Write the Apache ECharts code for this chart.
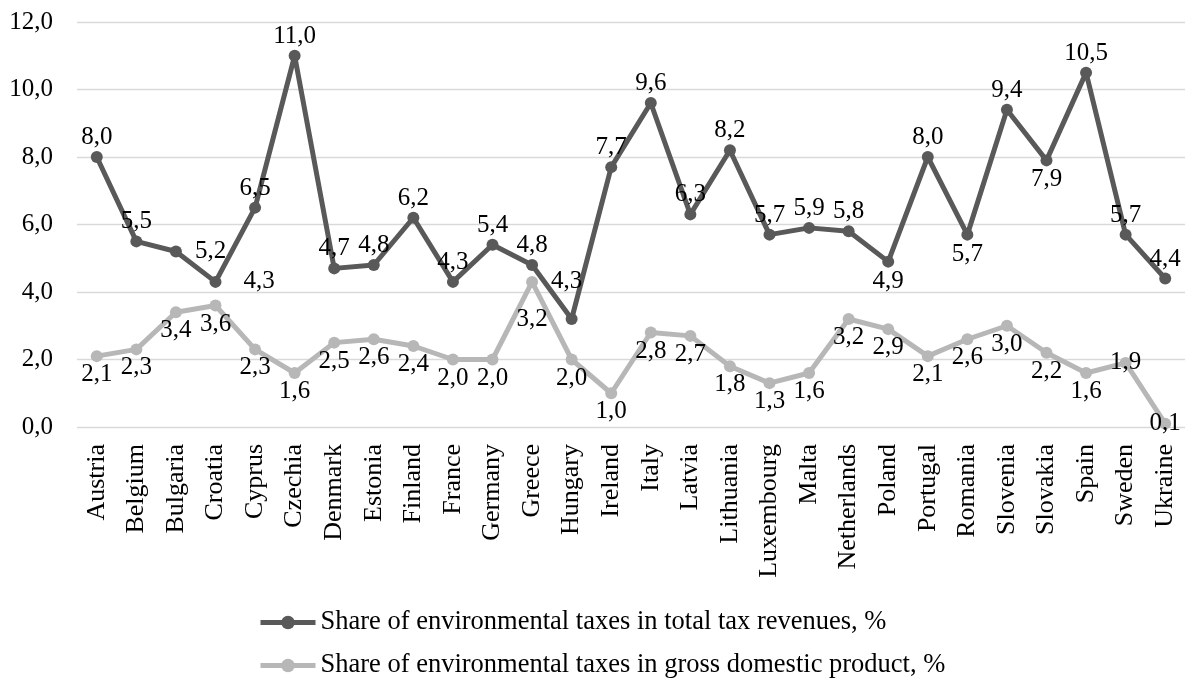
<!DOCTYPE html>
<html>
<head>
<meta charset="utf-8">
<style>
  html, body { margin: 0; padding: 0; background: #ffffff; }
  #chart { width: 1196px; height: 681px; }
</style>
<script src="https://cdn.jsdelivr.net/npm/echarts@6/dist/echarts.min.js"></script>
</head>
<body>
<div id="chart"></div>
<script>
// Country list along the horizontal axis
const countries = [
  'Austria', 'Belgium', 'Bulgaria', 'Croatia', 'Cyprus', 'Czechia', 'Denmark',
  'Estonia', 'Finland', 'France', 'Germany', 'Greece', 'Hungary', 'Ireland',
  'Italy', 'Latvia', 'Lithuania', 'Luxembourg', 'Malta', 'Netherlands', 'Poland',
  'Portugal', 'Romania', 'Slovenia', 'Slovakia', 'Spain', 'Sweden', 'Ukraine'
];

// Share of environmental taxes in total tax revenues, %
const shareOfTaxRevenues = [
  8.0, 5.5, 5.2, 4.3, 6.5, 11.0, 4.7,
  4.8, 6.2, 4.3, 5.4, 4.8, 3.2, 7.7,
  9.6, 6.3, 8.2, 5.7, 5.9, 5.8, 4.9,
  8.0, 5.7, 9.4, 7.9, 10.5, 5.7, 4.4
];

// Share of environmental taxes in gross domestic product, %
const shareOfGdp = [
  2.1, 2.3, 3.4, 3.6, 2.3, 1.6, 2.5,
  2.6, 2.4, 2.0, 2.0, 4.3, 2.0, 1.0,
  2.8, 2.7, 1.8, 1.3, 1.6, 3.2, 2.9,
  2.1, 2.6, 3.0, 2.2, 1.6, 1.9, 0.1
];

const seriesNames = [
  'Share of environmental taxes in total tax revenues, %',
  'Share of environmental taxes in gross domestic product, %'
];

// Value axis range
const yMin = 0;
const yMax = 12;
const yStep = 2;

const FONT = 'Liberation Serif, Times New Roman, serif';
const FS = 25;        // numbers (ticks and value labels)
const FS_CAT = 26;    // country names
const FS_LEGEND = 26.5;
const DARK = '#595959';
const LIGHT = '#b7b7b7';
const fmt = v => Number(v).toFixed(1).replace('.', ',');

// Label placement for points whose value label does not sit in the default spot
const darkLabelPlacement = {
  2: { position: 'right', distance: 13 },
  3: { position: 'right', distance: 22 },
  12: { position: 'left', distance: 18, offset: [0, -6] },
  20: { position: 'bottom' },
  22: { position: 'bottom' },
  24: { position: 'bottom' }
};
const lightLabelPlacement = {
  11: { position: 'right', distance: 13, offset: [0, 14] },
  26: { position: 'inside', offset: [-2, 10] },
  27: { position: 'inside', offset: [4, 0] }
};

function buildData(values, placement) {
  return values.map((v, i) => {
    const item = { value: v };
    if (placement[i]) item.label = placement[i];
    return item;
  });
}

// One legend row per series, stacked and left-aligned
function legendRow(name, top, color) {
  return {
    orient: 'horizontal',
    left: 258,
    top: top,
    padding: 0,
    itemWidth: 55,
    itemHeight: 17,
    lineStyle: { width: 5, color: color },
    itemStyle: { color: color },
    textStyle: { fontFamily: FONT, fontSize: FS_LEGEND, color: '#000000' },
    data: [name]
  };
}

const chart = echarts.init(document.getElementById('chart'), null, { renderer: 'canvas' });

chart.setOption({
  animation: false,
  backgroundColor: '#ffffff',
  textStyle: { fontFamily: FONT, color: '#000000' },
  grid: { left: 77, right: 11, top: 22, bottom: 254, containLabel: false },
  legend: [
    legendRow(seriesNames[0], 609, DARK),
    legendRow(seriesNames[1], 652, LIGHT)
  ],
  xAxis: {
    type: 'category',
    data: countries,
    boundaryGap: true,
    axisLine: { show: false },
    axisTick: { show: false },
    axisLabel: {
      rotate: 90,
      interval: 0,
      margin: 17,
      fontFamily: FONT,
      fontSize: FS_CAT,
      color: '#000000'
    }
  },
  yAxis: {
    type: 'value',
    min: yMin,
    max: yMax,
    interval: yStep,
    axisLine: { show: false },
    axisTick: { show: false },
    splitLine: { lineStyle: { color: '#d9d9d9', width: 1.3 } },
    axisLabel: {
      margin: 24,
      fontFamily: FONT,
      fontSize: FS,
      color: '#000000',
      formatter: fmt
    }
  },
  series: [
    {
      name: seriesNames[0],
      type: 'line',
      data: buildData(shareOfTaxRevenues, darkLabelPlacement),
      symbol: 'circle',
      symbolSize: 12,
      lineStyle: { color: DARK, width: 5 },
      itemStyle: { color: DARK },
      label: {
        show: true,
        position: 'top',
        distance: 1,
        fontFamily: FONT,
        fontSize: FS,
        color: '#000000',
        formatter: p => fmt(p.value)
      },
      labelLayout: { hideOverlap: false }
    },
    {
      name: seriesNames[1],
      type: 'line',
      data: buildData(shareOfGdp, lightLabelPlacement),
      symbol: 'circle',
      symbolSize: 12,
      lineStyle: { color: LIGHT, width: 5 },
      itemStyle: { color: LIGHT },
      label: {
        show: true,
        position: 'bottom',
        distance: 0,
        fontFamily: FONT,
        fontSize: FS,
        color: '#000000',
        formatter: p => fmt(p.value)
      },
      labelLayout: { hideOverlap: false }
    }
  ]
});
</script>
</body>
</html>
